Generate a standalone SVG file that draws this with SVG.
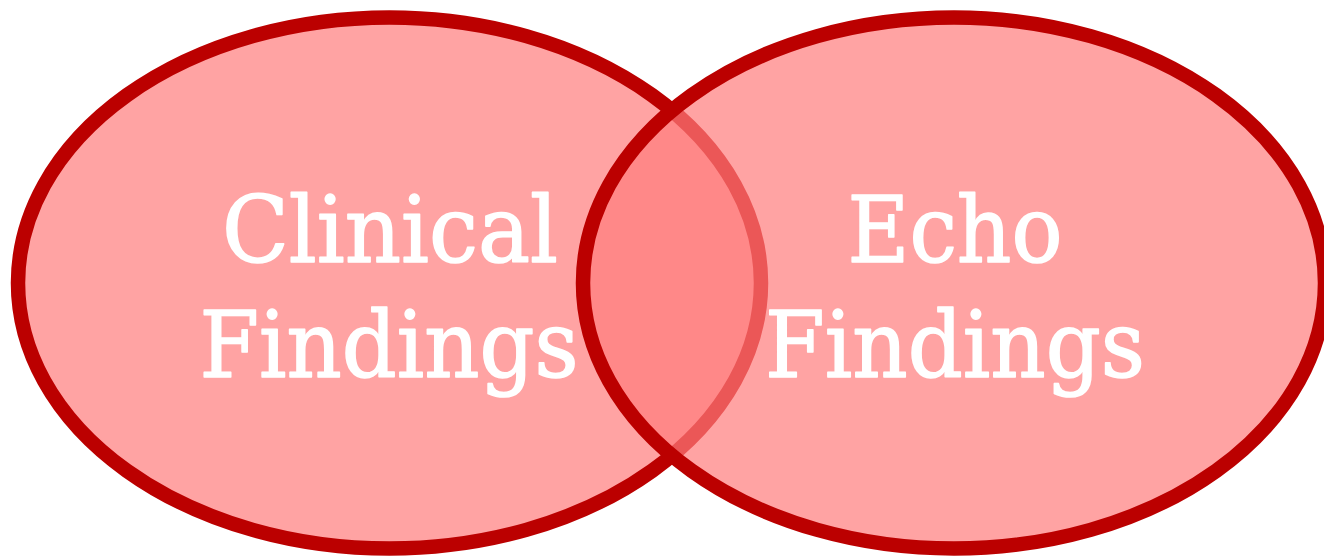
<svg xmlns="http://www.w3.org/2000/svg" width="1324" height="558" viewBox="0 0 1324 558">
  <style>
    .set { fill: rgb(255,124,124); fill-opacity: 0.7; stroke: #BB0000; stroke-width: 14.5; }
    .label { font-family: "Rockwell", "DejaVu Serif", serif; font-size: 92px; fill: #FFFFFF; stroke: #FFFFFF; stroke-width: 1.6; stroke-linejoin: round; text-anchor: middle; }
  </style>
  <rect width="1324" height="558" fill="#FFFFFF"/>
  <g id="clinical-findings">
    <ellipse class="set" cx="389.5" cy="283" rx="371.5" ry="265.5"/>
    <text class="label" x="390" y="262" textLength="336" lengthAdjust="spacingAndGlyphs">Clinical</text>
    <text class="label" x="389" y="377" textLength="379" lengthAdjust="spacingAndGlyphs">Findings</text>
  </g>
  <g id="echo-findings">
    <ellipse class="set" cx="954" cy="283" rx="371" ry="265.5"/>
    <text class="label" x="955" y="262" textLength="215" lengthAdjust="spacingAndGlyphs">Echo</text>
    <text class="label" x="955" y="377" textLength="380" lengthAdjust="spacingAndGlyphs">Findings</text>
  </g>
  <g id="connectors"/>
</svg>
